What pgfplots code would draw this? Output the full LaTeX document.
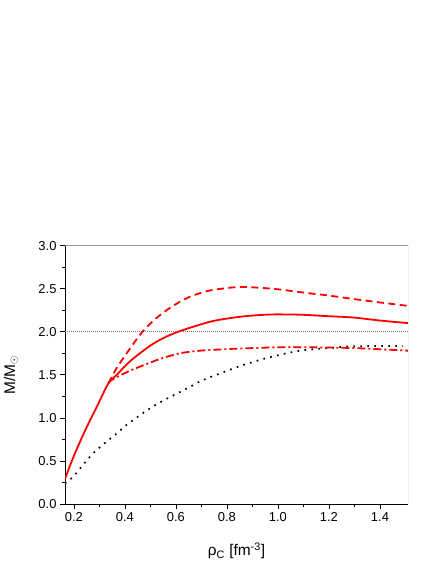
\documentclass[border=0pt]{standalone}
\usepackage{fontspec}
\setmainfont{Liberation Sans}
\usepackage{pgfplots}
\pgfplotsset{compat=1.18}

\begin{document}
\begin{tikzpicture}
\useasboundingbox (0,0) rectangle (436bp,564bp);
\begin{axis}[
    at={(65bp,60bp)},
    anchor=south west,
    scale only axis,
    width=343bp,
    height=258.4bp,
    xmin=0.165, xmax=1.51,
    ymin=0, ymax=3,
    xtick={0.2,0.4,...,1.4},
    ytick={0,0.5,...,3},
    minor x tick num=1,
    minor y tick num=1,
    axis x line*=bottom,
    axis y line*=left,
    axis line style={-, black, line width=0.8bp},
    tick align=outside,
    major tick length=5bp,
    minor tick length=3bp,
    tick style={black, line width=0.7bp},
    ticklabel style={font=\fontsize{13}{16}\selectfont,
      /pgf/number format/.cd, fixed, fixed zerofill, precision=1, assume math mode=true},
    every axis x label/.style={at={(rel axis cs:0.5,0)}, yshift=-47bp, anchor=center,
      font=\fontsize{15.5}{18}\selectfont},
    every axis y label/.style={at={(rel axis cs:0,0.5)}, xshift=-54bp, rotate=90, anchor=center,
      font=\fontsize{15.5}{18}\selectfont},
    xlabel={ρ\textsubscript{C} [fm\textsuperscript{-3}]},
    ylabel={M/M\textsubscript{$\odot$}},
  ]
  \draw[black!40, line width=0.8bp] (rel axis cs:0,1) -- (rel axis cs:1,1) -- (rel axis cs:1,0);

  % reference line at 2 solar masses
  \addplot[black!55, line width=0.6bp, dash pattern=on 0.7bp off 1.3bp] coordinates {(0.165,2) (1.51,2)};

  % dotted black
  \addplot[black, line width=1.7bp, dash pattern=on 1.7bp off 5.3bp, smooth] coordinates {
    (0.165,0.24) (0.198,0.32) (0.276,0.59) (0.368,0.82) (0.407,0.92) (0.498,1.11)
    (0.55,1.20) (0.642,1.34) (0.7,1.43) (0.75,1.49) (0.851,1.60) (0.95,1.69)
    (1.05,1.76) (1.112,1.79) (1.2,1.81) (1.283,1.83) (1.4,1.835) (1.49,1.835)};

  % solid red
  \addplot[red, line width=1.8bp, smooth] coordinates {
    (0.165,0.29) (0.2,0.56) (0.245,0.86) (0.29,1.13) (0.335,1.40) (0.368,1.50)
    (0.40,1.60) (0.433,1.69) (0.5,1.84) (0.55,1.925) (0.609,2.00) (0.714,2.10)
    (0.773,2.14) (0.87,2.18) (0.969,2.20) (1.05,2.20) (1.112,2.195) (1.2,2.18)
    (1.296,2.165) (1.4,2.13) (1.51,2.10)};

  % dashed red
  \addplot[red, line width=1.8bp, dash pattern=on 7bp off 4.5bp, smooth] coordinates {
    (0.335,1.40) (0.368,1.58) (0.414,1.78) (0.466,1.99) (0.52,2.15) (0.583,2.29)
    (0.65,2.40) (0.72,2.47) (0.78,2.50) (0.851,2.52) (0.93,2.51) (1.008,2.49)
    (1.112,2.45) (1.2,2.42) (1.296,2.38) (1.4,2.34) (1.51,2.30)};

  % dash-dotted red
  \addplot[red, line width=1.8bp, dash pattern=on 8bp off 3bp on 2bp off 3bp, smooth] coordinates {
    (0.335,1.40) (0.348,1.44) (0.414,1.54) (0.498,1.64) (0.544,1.69) (0.616,1.75)
    (0.694,1.78) (0.812,1.80) (0.9,1.81) (1.008,1.82) (1.112,1.82) (1.3,1.81)
    (1.51,1.78)};
\end{axis}
\end{tikzpicture}
\end{document}
